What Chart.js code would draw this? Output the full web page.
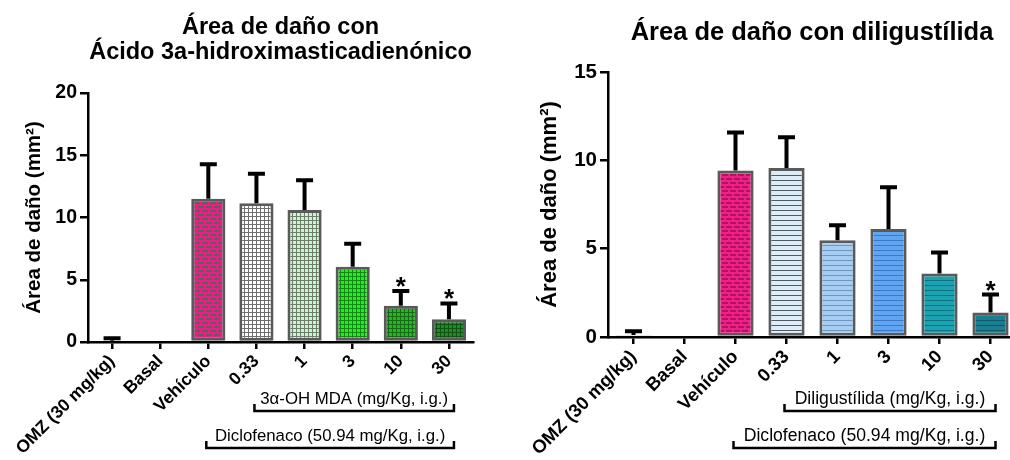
<!DOCTYPE html>
<html>
<head>
<meta charset="utf-8">
<script src="https://cdn.jsdelivr.net/npm/chart.js@4.4.1/dist/chart.umd.min.js"></script>
<style>
  body { margin: 0; width: 1010px; height: 460px; overflow: hidden; background: #fff; position: relative; }
  #left { position: absolute; left: 0; top: 0; }
  #right { position: absolute; left: 500px; top: 0; }
</style>
</head>
<body>
<canvas id="left" width="500" height="460" style="width:500px;height:460px"></canvas>
<canvas id="right" width="520" height="460" style="width:520px;height:460px"></canvas>
<script>
// categories (same for both panels)
const categories = ['OMZ (30 mg/kg)', 'Basal', 'Vehículo', '0.33', '1', '3', '10', '30'];

// left panel: 3a-hidroximasticadienonico
const mdaMeans = [0.1, 0, 11.5, 11.15, 10.6, 6.05, 2.92, 1.82];
const mdaSem   = [0.2, 0, 2.77, 2.37, 2.4, 1.85, 1.18, 1.28];
const mdaStars = [false, false, false, false, false, false, true, true];
const mdaTicks = [0, 5, 10, 15, 20];

// right panel: diligustilida
const diliMeans = [0.12, 0, 9.43, 9.57, 5.47, 6.11, 3.59, 1.38];
const diliSem   = [0.21, 0, 2.14, 1.73, 0.85, 2.36, 1.19, 1.02];
const diliStars = [false, false, false, false, false, false, false, true];
const diliTicks = [0, 5, 10, 15];

const FONT = '"Liberation Sans", Arial, Helvetica, sans-serif';

// --- fill patterns -------------------------------------------------------
function tile(w, h, draw) {
    const c = document.createElement('canvas');
    c.width = w; c.height = h;
    const g = c.getContext('2d');
    draw(g);
    return g.createPattern(c, 'repeat');
}
function gridPattern(bg, line) {
    return tile(4, 4, g => {
        g.fillStyle = bg; g.fillRect(0, 0, 4, 4);
        g.fillStyle = line; g.fillRect(0, 0, 4, 1); g.fillRect(0, 0, 1, 4);
    });
}
function stripePattern(bg, line) {
    return tile(5, 5, g => {
        g.fillStyle = bg; g.fillRect(0, 0, 5, 5);
        g.fillStyle = line; g.fillRect(0, 0, 5, 1);
    });
}
function brickPattern(bg, mortar) {
    return tile(8, 8, g => {
        g.fillStyle = bg; g.fillRect(0, 0, 8, 8);
        g.fillStyle = mortar;
        g.fillRect(0, 0, 8, 2); g.fillRect(0, 4, 8, 2);
        g.fillRect(0, 0, 2, 4); g.fillRect(4, 4, 2, 4);
    });
}

const mdaFills = [
    '#f4f4f4', '#ffffff', brickPattern('#5e5e5e', '#ee1c84'),
    gridPattern('#ffffff', '#6e6e6e'), gridPattern('#c6f7c6', '#6f7d6f'),
    gridPattern('#22ec22', '#128a12'), gridPattern('#27b527', '#136e13'),
    gridPattern('#21892a', '#0f5512')
];
const diliFills = [
    '#f4f4f4', '#ffffff', brickPattern('#b3125f', '#f0208a'),
    stripePattern('#dcedf8', '#4f5a66'), stripePattern('#a6cdf2', '#6f96c0'),
    stripePattern('#5fa5f2', '#3b78c8'), stripePattern('#1aa2b0', '#0e7380'),
    stripePattern('#1a7e90', '#0f5a68')
];
const borders = ['#d6d6d6', '#ffffff', '#5a5a5a', '#5a5a5a', '#5a5a5a', '#5a5a5a', '#5a5a5a', '#5a5a5a'];

// --- plugins -------------------------------------------------------------
const errorBars = {
    id: 'errorBars',
    afterDatasetsDraw(chart, args, opts) {
        const { ctx, scales: { x, y } } = chart;
        const vals = chart.data.datasets[0].data;
        ctx.save();
        ctx.strokeStyle = '#000';
        ctx.fillStyle = '#000';
        ctx.lineWidth = opts.width;
        vals.forEach((v, i) => {
            const e = opts.sem[i];
            if (!e) return;
            const px = x.getPixelForValue(i);
            const top = y.getPixelForValue(v + e);
            ctx.beginPath();
            ctx.moveTo(px, y.getPixelForValue(v));
            ctx.lineTo(px, top);
            ctx.moveTo(px - opts.cap / 2, top);
            ctx.lineTo(px + opts.cap / 2, top);
            ctx.stroke();
            if (opts.stars[i]) {
                ctx.font = 'bold ' + opts.starSize + 'px ' + FONT;
                ctx.textAlign = 'center';
                ctx.textBaseline = 'alphabetic';
                ctx.fillText('*', px, top + 4);
            }
        });
        ctx.restore();
    }
};

const brackets = {
    id: 'brackets',
    afterDraw(chart, args, opts) {
        const { ctx, scales: { x } } = chart;
        ctx.save();
        ctx.strokeStyle = '#000';
        ctx.fillStyle = '#000';
        ctx.lineWidth = 2.5;
        ctx.font = opts.size + 'px ' + FONT;
        ctx.textAlign = 'center';
        ctx.textBaseline = 'middle';
        opts.groups.forEach(gr => {
            const x0 = x.getPixelForValue(gr.from) - 2;
            const x1 = x.getPixelForValue(gr.to) + 5;
            ctx.beginPath();
            ctx.moveTo(x0, gr.y - 7);
            ctx.lineTo(x0, gr.y);
            ctx.lineTo(x1, gr.y);
            ctx.lineTo(x1, gr.y - 7);
            ctx.stroke();
            ctx.fillText(gr.text, (x0 + x1) / 2, gr.y - 12);
        });
        ctx.restore();
    }
};

const headline = {
    id: 'headline',
    afterDraw(chart, args, opts) {
        const { ctx, chartArea } = chart;
        ctx.save();
        ctx.fillStyle = '#000';
        ctx.font = 'bold ' + opts.size + 'px ' + FONT;
        ctx.textAlign = 'center';
        ctx.textBaseline = 'middle';
        const cx = (chartArea.left + chartArea.right) / 2;
        opts.lines.forEach((t, i) => ctx.fillText(t, cx, opts.y + i * opts.lineGap));
        ctx.restore();
    }
};

// --- chart builder -------------------------------------------------------
function buildChart(id, o) {
    return new Chart(document.getElementById(id), {
        type: 'bar',
        data: {
            labels: categories,
            datasets: [{
                data: o.means,
                backgroundColor: o.fills,
                borderColor: borders,
                borderWidth: 3,
                borderSkipped: false,
                barPercentage: o.barPct,
                categoryPercentage: 1
            }]
        },
        plugins: [errorBars, brackets, headline],
        options: {
            responsive: false,
            animation: false,
            events: [],
            layout: { padding: { top: o.top, right: o.right, left: 0, bottom: 0 } },
            plugins: {
                legend: { display: false },
                tooltip: { enabled: false },
                errorBars: { sem: o.sem, stars: o.stars, cap: o.cap, width: 4, starSize: o.starSize },
                brackets: { size: o.bracketSize, groups: o.groups },
                headline: { lines: o.title, size: o.titleSize, y: o.titleY, lineGap: o.titleGap }
            },
            scales: {
                x: {
                    afterFit: s => { s.height = 460 - o.bottom; },
                    border: { color: '#000', width: 2.5 },
                    grid: { drawOnChartArea: false, offset: false, color: '#000', lineWidth: 2.5, tickLength: 7 },
                    ticks: {
                        color: '#000', autoSkip: false, minRotation: 45, maxRotation: 45, padding: 2,
                        font: { family: FONT, weight: 'bold', size: o.xSize }
                    }
                },
                y: {
                    min: 0, max: o.yTicks[o.yTicks.length - 1],
                    afterFit: s => { s.width = o.left; },
                    afterBuildTicks: s => { s.ticks = o.yTicks.map(v => ({ value: v })); },
                    border: { color: '#000', width: 2.5 },
                    grid: { drawOnChartArea: false, color: '#000', lineWidth: 2.5, tickLength: 8 },
                    ticks: { color: '#000', padding: 3, font: { family: FONT, weight: 'bold', size: o.ySize } },
                    title: {
                        display: true, text: 'Área de daño (mm²)', color: '#000',
                        font: { family: FONT, weight: 'bold', size: o.yTitleSize },
                        padding: { top: o.yTitlePad, bottom: 0 }
                    }
                }
            }
        }
    });
}

buildChart('left', {
    means: mdaMeans, sem: mdaSem, stars: mdaStars, yTicks: mdaTicks, fills: mdaFills,
    top: 93, bottom: 342, left: 88, right: 27, barPct: 0.71, cap: 17, starSize: 26,
    xSize: 17.5, ySize: 19.5, yTitleSize: 20.5, yTitlePad: 22,
    title: ['Área de daño con', 'Ácido 3a-hidroximasticadienónico'], titleSize: 23.5, titleY: 28, titleGap: 25,
    bracketSize: 16.8,
    groups: [
        { from: 3, to: 7, text: '3α-OH MDA (mg/Kg, i.g.)', y: 411 },
        { from: 2, to: 7, text: 'Diclofenaco (50.94 mg/Kg, i.g.)', y: 448 }
    ]
});

buildChart('right', {
    means: diliMeans, sem: diliSem, stars: diliStars, yTicks: diliTicks, fills: diliFills,
    top: 72, bottom: 337, left: 108, right: 4, barPct: 0.71, cap: 17, starSize: 26,
    xSize: 18.5, ySize: 20.5, yTitleSize: 22, yTitlePad: 37,
    title: ['Área de daño con diligustílida'], titleSize: 25.5, titleY: 33, titleGap: 0,
    bracketSize: 17.6,
    groups: [
        { from: 3, to: 7, text: 'Diligustílida (mg/Kg, i.g.)', y: 411 },
        { from: 2, to: 7, text: 'Diclofenaco (50.94 mg/Kg, i.g.)', y: 448 }
    ]
});
</script>
</body>
</html>
